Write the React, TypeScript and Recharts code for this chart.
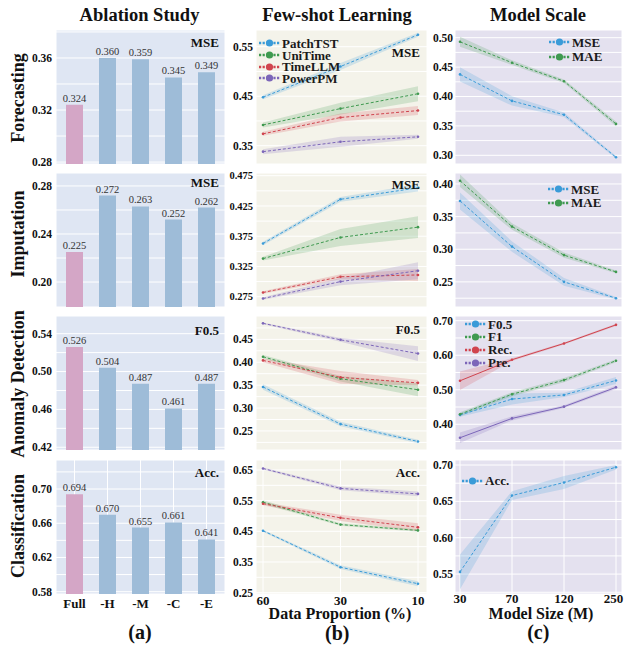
import React from "react";
import {
  Area,
  Bar,
  BarChart,
  CartesianGrid,
  Cell,
  ComposedChart,
  LabelList,
  Line,
  XAxis,
  YAxis,
} from "recharts";

const FONT = "'Liberation Serif', 'Times New Roman', serif";

// ---------- (a) Ablation Study ----------
const ablationNames = ["Full", "-H", "-M", "-C", "-E"];
const ablationForecasting = [0.324, 0.36, 0.359, 0.345, 0.349];
const ablationImputation = [0.225, 0.272, 0.263, 0.252, 0.262];
const ablationAnomaly = [0.526, 0.504, 0.487, 0.461, 0.487];
const ablationClassification = [0.694, 0.67, 0.655, 0.661, 0.641];

// ---------- (b) Few-shot Learning ----------
const fewShotX = ["60", "30", "10"];

// forecasting (MSE)
const fsFcPatchTST = [0.448, 0.51, 0.574];
const fsFcPatchTSTErr = [0.004, 0.007, 0.004];
const fsFcUniTime = [0.392, 0.425, 0.455];
const fsFcUniTimeErr = [0.005, 0.012, 0.015];
const fsFcTimeLLM = [0.374, 0.407, 0.421];
const fsFcTimeLLMErr = [0.004, 0.008, 0.009];
const fsFcPowerPM = [0.338, 0.358, 0.368];
const fsFcPowerPMErr = [0.005, 0.01, 0.004];

// imputation (MSE)
const fsImPatchTST = [0.363, 0.436, 0.455];
const fsImPatchTSTErr = [0.003, 0.004, 0.006];
const fsImUniTime = [0.338, 0.373, 0.39];
const fsImUniTimeErr = [0.003, 0.014, 0.018];
const fsImTimeLLM = [0.282, 0.308, 0.311];
const fsImTimeLLMErr = [0.002, 0.004, 0.01];
const fsImPowerPM = [0.272, 0.3, 0.318];
const fsImPowerPMErr = [0.002, 0.006, 0.014];

// anomaly detection (F0.5)
const fsAdPatchTST = [0.346, 0.265, 0.227];
const fsAdPatchTSTErr = [0.006, 0.005, 0.004];
const fsAdUniTime = [0.412, 0.364, 0.34];
const fsAdUniTimeErr = [0.004, 0.006, 0.014];
const fsAdTimeLLM = [0.404, 0.367, 0.355];
const fsAdTimeLLMErr = [0.004, 0.014, 0.006];
const fsAdPowerPM = [0.485, 0.449, 0.419];
const fsAdPowerPMErr = [0.002, 0.004, 0.016];

// classification (Acc.)
const fsClPatchTST = [0.452, 0.333, 0.279];
const fsClPatchTSTErr = [0.003, 0.006, 0.008];
const fsClUniTime = [0.545, 0.472, 0.453];
const fsClUniTimeErr = [0.006, 0.004, 0.004];
const fsClTimeLLM = [0.54, 0.494, 0.463];
const fsClTimeLLMErr = [0.005, 0.01, 0.013];
const fsClPowerPM = [0.655, 0.59, 0.572];
const fsClPowerPMErr = [0.003, 0.006, 0.008];

// ---------- (c) Model Scale ----------
const modelSizeX = ["30", "70", "120", "250"];

const msFcMSE = [0.4376, 0.3925, 0.369, 0.2966];
const msFcMSEErr = [0.012, 0.008, 0.004, 0.002];
const msFcMAE = [0.493, 0.4575, 0.426, 0.3534];
const msFcMAEErr = [0.0085, 0.004, 0.003, 0.004];

const msImMSE = [0.374, 0.304, 0.25, 0.225];
const msImMSEErr = [0.013, 0.008, 0.006, 0.002];
const msImMAE = [0.405, 0.3347, 0.291, 0.2653];
const msImMAEErr = [0.0095, 0.005, 0.004, 0.002];

const msAdF05 = [0.427, 0.473, 0.485, 0.527];
const msAdF05Err = [0.005, 0.016, 0.006, 0.01];
const msAdF1 = [0.429, 0.487, 0.528, 0.584];
const msAdF1Err = [0.006, 0.006, 0.006, 0.004];
const msAdRec = [0.526, 0.587, 0.634, 0.688];
const msAdRecErr = [0.027, 0.004, 0.003, 0.003];
const msAdPre = [0.361, 0.417, 0.451, 0.507];
const msAdPreErr = [0.015, 0.006, 0.004, 0.005];

const msClAcc = [0.553, 0.658, 0.676, 0.697];
const msClAccErr = [0.024, 0.006, 0.009, 0.003];

// ---------- y gridlines / labelled ticks ----------
const aFcGrid = [0.28, 0.3, 0.32, 0.34, 0.36, 0.38];
const aFcTicks = [0.28, 0.32, 0.36];
const aImGrid = [0.2, 0.22, 0.24, 0.26, 0.28];
const aImTicks = [0.2, 0.24, 0.28];
const aAdGrid = [0.42, 0.44, 0.46, 0.48, 0.5, 0.52, 0.54];
const aAdTicks = [0.42, 0.46, 0.5, 0.54];
const aClGrid = [0.58, 0.6, 0.62, 0.64, 0.66, 0.68, 0.7, 0.72];
const aClTicks = [0.58, 0.62, 0.66, 0.7];

const bFcGrid = [0.35, 0.4, 0.45, 0.5, 0.55];
const bFcTicks = [0.35, 0.45, 0.55];
const bImGrid = [0.275, 0.3, 0.325, 0.35, 0.375, 0.4, 0.425, 0.45, 0.475];
const bImTicks = [0.275, 0.325, 0.375, 0.425, 0.475];
const bAdGrid = [0.225, 0.25, 0.275, 0.3, 0.325, 0.35, 0.375, 0.4, 0.425, 0.45, 0.475];
const bAdTicks = [0.25, 0.3, 0.35, 0.4, 0.45];
const bClGrid = [0.25, 0.3, 0.35, 0.4, 0.45, 0.5, 0.55, 0.6, 0.65];
const bClTicks = [0.25, 0.35, 0.45, 0.55, 0.65];

const cFcGrid = [0.3, 0.325, 0.35, 0.375, 0.4, 0.425, 0.45, 0.475, 0.5];
const cFcTicks = [0.3, 0.35, 0.4, 0.45, 0.5];
const cImGrid = [0.225, 0.25, 0.275, 0.3, 0.325, 0.35, 0.375, 0.4];
const cImTicks = [0.25, 0.3, 0.35, 0.4];
const cAdGrid = [0.35, 0.4, 0.45, 0.5, 0.55, 0.6, 0.65, 0.7];
const cAdTicks = [0.4, 0.5, 0.6, 0.7];
const cClGrid = [0.525, 0.55, 0.575, 0.6, 0.625, 0.65, 0.675, 0.7];
const cClTicks = [0.55, 0.6, 0.65, 0.7];

// ---------- styling ----------
const BLUE = "#3a9bd8";
const GREEN = "#3f9a50";
const RED = "#d0444e";
const PURPLE = "#7c66b9";
const BG_A = "#dfe6f3";
const BG_B = "#f4f3ea";
const BG_C = "#e4e1ef";
const BAR_FULL = "#d4a6c6";
const BAR_REST = "#9ebcd8";

const ROW_TOP = [30, 173, 316, 460];
const PLOT_H = 134;
const X_H = 22;
const M_TOP = 8;
const M_RIGHT = 10;
const Y_W = 30;

type Series = { name: string; color: string; mean: number[]; err: number[]; dash?: string };

const yTick =
  (labels: number[], dec: number, xr: number, fs: number) =>
  (p: any) => {
    const v = p.payload.value as number;
    if (!labels.some((l) => Math.abs(l - v) < 1e-6)) return <g />;
    return (
      <text
        x={xr}
        y={p.y}
        dy={fs * 0.34}
        textAnchor="end"
        fontFamily={FONT}
        fontWeight="bold"
        fontSize={fs}
        fill="#111"
      >
        {v.toFixed(dec)}
      </text>
    );
  };

// maxX keeps the last label inside the page
const xTick = (off: number, maxX: number) => (p: any) => (
  <text
    x={Math.min(p.x, maxX)}
    y={M_TOP + PLOT_H + off}
    textAnchor="middle"
    fontFamily={FONT}
    fontWeight="bold"
    fontSize={13}
    fill="#111"
  >
    {p.payload.value}
  </text>
);

function AblationPanel(props: {
  row: number;
  values: number[];
  domain: [number, number];
  grid: number[];
  ticks: number[];
}) {
  const { row, values, domain, grid, ticks } = props;
  const data = ablationNames.map((name, i) => ({ name, v: values[i] }));
  const bottom = row === 3;
  return (
    <div style={{ position: "absolute", left: 56 - Y_W, top: ROW_TOP[row] - M_TOP }}>
      <BarChart
        width={Y_W + 169 + M_RIGHT}
        height={M_TOP + PLOT_H + X_H}
        data={data}
        margin={{ top: M_TOP, right: M_RIGHT, bottom: 0, left: 0 }}
      >
        <CartesianGrid stroke="#fff" strokeWidth={1} fill={BG_A} fillOpacity={1} />
        <XAxis
          dataKey="name"
          type="category"
          padding={{ left: 2, right: 2 }}
          axisLine={false}
          tickLine={false}
          height={X_H}
          interval={0}
          tick={bottom ? xTick(14, 999) : false}
        />
        <YAxis
          type="number"
          domain={domain}
          allowDataOverflow
          ticks={grid}
          interval={0}
          axisLine={false}
          tickLine={false}
          width={Y_W}
          tick={yTick(ticks, 2, Y_W - 4, 11.5)}
        />
        <Bar dataKey="v" barSize={17} isAnimationActive={false}>
          {data.map((d, i) => (
            <Cell key={d.name} fill={i === 0 ? BAR_FULL : BAR_REST} />
          ))}
          <LabelList
            dataKey="v"
            position="top"
            offset={3}
            formatter={(v: any) => Number(v).toFixed(3)}
            fill="#333"
            fontSize={10.5}
            fontFamily={FONT}
          />
        </Bar>
      </BarChart>
    </div>
  );
}

function LinePanel(props: {
  left: number;
  row: number;
  plotW: number;
  cats: string[];
  series: Series[];
  domain: [number, number];
  grid: number[];
  ticks: number[];
  dec: number;
  tickFs: number;
  tickRight: number;
  pad: { left: number; right: number };
  bg: string;
  xOff: number;
  xMax: number;
}) {
  const { left, row, plotW, cats, series, domain, grid, ticks, dec, tickFs, tickRight, pad, bg, xOff, xMax } =
    props;
  const data = cats.map((c, i) => {
    const r: any = { x: c };
    series.forEach((s) => {
      r[s.name] = s.mean[i];
      r[s.name + "_band"] = [s.mean[i] - s.err[i], s.mean[i] + s.err[i]];
    });
    return r;
  });
  const bottom = row === 3;
  const chartLeft = left - Y_W;
  return (
    <div style={{ position: "absolute", left: chartLeft, top: ROW_TOP[row] - M_TOP }}>
      <ComposedChart
        width={Y_W + plotW + M_RIGHT}
        height={M_TOP + PLOT_H + X_H}
        data={data}
        margin={{ top: M_TOP, right: M_RIGHT, bottom: 0, left: 0 }}
      >
        <CartesianGrid stroke="#fff" strokeWidth={1} fill={bg} fillOpacity={1} />
        <XAxis
          dataKey="x"
          type="category"
          padding={pad}
          axisLine={false}
          tickLine={false}
          height={X_H}
          interval={0}
          tick={bottom ? xTick(xOff, xMax - chartLeft) : false}
        />
        <YAxis
          type="number"
          domain={domain}
          allowDataOverflow
          ticks={grid}
          interval={0}
          axisLine={false}
          tickLine={false}
          width={Y_W}
          tick={yTick(ticks, dec, tickRight, tickFs)}
        />
        {series.map((s) => (
          <Area
            key={s.name + "_band"}
            type="linear"
            dataKey={s.name + "_band"}
            stroke="none"
            fill={s.color}
            fillOpacity={0.2}
            dot={false}
            activeDot={false}
            isAnimationActive={false}
          />
        ))}
        {series.map((s) => (
          <Line
            key={s.name}
            type="linear"
            dataKey={s.name}
            stroke={s.color}
            strokeWidth={1}
            strokeDasharray={s.dash ?? "3 2"}
            dot={{ r: 1.3, fill: s.color, stroke: s.color, strokeWidth: 0 }}
            activeDot={false}
            isAnimationActive={false}
          />
        ))}
      </ComposedChart>
    </div>
  );
}

function Legend(props: { left: number; top: number; gap: number; items: { name: string; color: string }[] }) {
  return (
    <>
      {props.items.map((it, i) => (
        <div
          key={it.name}
          style={{
            position: "absolute",
            left: props.left,
            top: props.top + i * props.gap - 5.5,
            height: 11,
            display: "flex",
            alignItems: "center",
            whiteSpace: "nowrap",
          }}
        >
          <svg width={21} height={8} style={{ display: "block" }}>
            <line x1={0} y1={4} x2={21} y2={4} stroke={it.color} strokeWidth={2.4} strokeDasharray="2.2 1.4" />
            <circle cx={10.5} cy={4} r={3.6} fill={it.color} />
          </svg>
          <span
            style={{
              marginLeft: 2,
              fontFamily: FONT,
              fontWeight: "bold",
              fontSize: 13,
              lineHeight: "11px",
              color: "#1a1a1a",
            }}
          >
            {it.name}
          </span>
        </div>
      ))}
    </>
  );
}

function Label(props: {
  x: number;
  y: number;
  text: string;
  size: number;
  rotate?: boolean;
  align?: "center" | "right";
}) {
  const { x, y, text, size, rotate, align = "center" } = props;
  const tx = align === "right" ? "-100%" : "-50%";
  return (
    <div
      style={{
        position: "absolute",
        left: x,
        top: y,
        transform: `translate(${tx}, -50%)${rotate ? " rotate(-90deg)" : ""}`,
        fontFamily: FONT,
        fontWeight: "bold",
        fontSize: size,
        lineHeight: 0.8,
        whiteSpace: "nowrap",
        color: "#111",
      }}
    >
      {text}
    </div>
  );
}

const fewShot = (
  p: number[],
  pe: number[],
  u: number[],
  ue: number[],
  t: number[],
  te: number[],
  w: number[],
  we: number[]
): Series[] => [
  { name: "PatchTST", color: BLUE, mean: p, err: pe },
  { name: "UniTime", color: GREEN, mean: u, err: ue },
  { name: "TimeLLM", color: RED, mean: t, err: te },
  { name: "PowerPM", color: PURPLE, mean: w, err: we },
];

export default function App() {
  const bCommon = {
    left: 256,
    plotW: 171,
    cats: fewShotX,
    pad: { left: 7, right: 9 },
    bg: BG_B,
    tickRight: Y_W - 3,
    xOff: 11,
    xMax: 999,
  };
  const cCommon = {
    left: 455,
    plotW: 167,
    cats: modelSizeX,
    pad: { left: 5, right: 6 },
    bg: BG_C,
    tickRight: Y_W - 2,
    xOff: 9,
    xMax: 613.5,
  };

  return (
    <div style={{ position: "absolute", left: 0, top: 0, width: 624, height: 646, background: "#fff" }}>
      {/* column titles */}
      <Label x={139.5} y={15} text="Ablation Study" size={18.5} />
      <Label x={337} y={15} text="Few-shot Learning" size={18.5} />
      <Label x={538} y={15} text="Model Scale" size={18.5} />

      {/* row titles */}
      <Label x={18} y={97.5} text="Forecasting" size={18} rotate />
      <Label x={18} y={234} text="Imputation" size={18} rotate />
      <Label x={18} y={384} text="Anomaly Detection" size={18} rotate />
      <Label x={18} y={525.5} text="Classification" size={18} rotate />

      {/* (a) */}
      <AblationPanel row={0} values={ablationForecasting} domain={[0.2785, 0.3815]} grid={aFcGrid} ticks={aFcTicks} />
      <AblationPanel row={1} values={ablationImputation} domain={[0.1792, 0.2908]} grid={aImGrid} ticks={aImTicks} />
      <AblationPanel row={2} values={ablationAnomaly} domain={[0.4171, 0.5587]} grid={aAdGrid} ticks={aAdTicks} />
      <AblationPanel row={3} values={ablationClassification} domain={[0.5773, 0.7339]} grid={aClGrid} ticks={aClTicks} />

      {/* (b) */}
      <LinePanel
        {...bCommon}
        row={0}
        series={fewShot(fsFcPatchTST, fsFcPatchTSTErr, fsFcUniTime, fsFcUniTimeErr, fsFcTimeLLM, fsFcTimeLLMErr, fsFcPowerPM, fsFcPowerPMErr)}
        domain={[0.3131, 0.5837]}
        grid={bFcGrid}
        ticks={bFcTicks}
        dec={2}
        tickFs={11.5}
      />
      <LinePanel
        {...bCommon}
        row={1}
        series={fewShot(fsImPatchTST, fsImPatchTSTErr, fsImUniTime, fsImUniTimeErr, fsImTimeLLM, fsImTimeLLMErr, fsImPowerPM, fsImPowerPMErr)}
        domain={[0.258, 0.4795]}
        grid={bImGrid}
        ticks={bImTicks}
        dec={3}
        tickFs={10.5}
      />
      <LinePanel
        {...bCommon}
        row={2}
        series={fewShot(fsAdPatchTST, fsAdPatchTSTErr, fsAdUniTime, fsAdUniTimeErr, fsAdTimeLLM, fsAdTimeLLMErr, fsAdPowerPM, fsAdPowerPMErr)}
        domain={[0.2084, 0.501]}
        grid={bAdGrid}
        ticks={bAdTicks}
        dec={2}
        tickFs={11.5}
      />
      <LinePanel
        {...bCommon}
        row={3}
        series={fewShot(fsClPatchTST, fsClPatchTSTErr, fsClUniTime, fsClUniTimeErr, fsClTimeLLM, fsClTimeLLMErr, fsClPowerPM, fsClPowerPMErr)}
        domain={[0.2456, 0.6826]}
        grid={bClGrid}
        ticks={bClTicks}
        dec={2}
        tickFs={11.5}
      />

      {/* (c) */}
      <LinePanel
        {...cCommon}
        row={0}
        series={[
          { name: "MSE", color: BLUE, mean: msFcMSE, err: msFcMSEErr },
          { name: "MAE", color: GREEN, mean: msFcMAE, err: msFcMAEErr },
        ]}
        domain={[0.2852, 0.5131]}
        grid={cFcGrid}
        ticks={cFcTicks}
        dec={2}
        tickFs={11.5}
      />
      <LinePanel
        {...cCommon}
        row={1}
        series={[
          { name: "MSE", color: BLUE, mean: msImMSE, err: msImMSEErr },
          { name: "MAE", color: GREEN, mean: msImMAE, err: msImMAEErr },
        ]}
        domain={[0.2115, 0.4168]}
        grid={cImGrid}
        ticks={cImTicks}
        dec={2}
        tickFs={11.5}
      />
      <LinePanel
        {...cCommon}
        row={2}
        series={[
          { name: "F0.5", color: BLUE, mean: msAdF05, err: msAdF05Err },
          { name: "F1", color: GREEN, mean: msAdF1, err: msAdF1Err },
          { name: "Rec.", color: RED, mean: msAdRec, err: msAdRecErr, dash: "" },
          { name: "Pre.", color: PURPLE, mean: msAdPre, err: msAdPreErr, dash: "" },
        ]}
        domain={[0.3255, 0.7136]}
        grid={cAdGrid}
        ticks={cAdTicks}
        dec={2}
        tickFs={11.5}
      />
      <LinePanel
        {...cCommon}
        row={3}
        series={[{ name: "Acc.", color: BLUE, mean: msClAcc, err: msClAccErr }]}
        domain={[0.5226, 0.7069]}
        grid={cClGrid}
        ticks={cClTicks}
        dec={2}
        tickFs={11.5}
      />

      {/* metric tags */}
      <Label x={219} y={43} text="MSE" size={13} align="right" />
      <Label x={219} y={183} text="MSE" size={13} align="right" />
      <Label x={219} y={331} text="F0.5" size={13} align="right" />
      <Label x={219} y={473} text="Acc." size={13} align="right" />
      <Label x={420} y={53} text="MSE" size={13} align="right" />
      <Label x={420} y={185} text="MSE" size={13} align="right" />
      <Label x={420} y={330} text="F0.5" size={13} align="right" />
      <Label x={420} y={473} text="Acc." size={13} align="right" />

      {/* legends */}
      <Legend
        left={259}
        top={43.3}
        gap={11.7}
        items={[
          { name: "PatchTST", color: BLUE },
          { name: "UniTime", color: GREEN },
          { name: "TimeLLM", color: RED },
          { name: "PowerPM", color: PURPLE },
        ]}
      />
      <Legend left={549} top={42.3} gap={14.3} items={[{ name: "MSE", color: BLUE }, { name: "MAE", color: GREEN }]} />
      <Legend left={548} top={189.3} gap={13.4} items={[{ name: "MSE", color: BLUE }, { name: "MAE", color: GREEN }]} />
      <Legend
        left={465}
        top={324}
        gap={12.9}
        items={[
          { name: "F0.5", color: BLUE },
          { name: "F1", color: GREEN },
          { name: "Rec.", color: RED },
          { name: "Pre.", color: PURPLE },
        ]}
      />
      <Legend left={462} top={480.7} gap={13} items={[{ name: "Acc.", color: BLUE }]} />

      {/* x-axis titles and panel tags */}
      <Label x={340} y={613.5} text="Data Proportion (%)" size={16} />
      <Label x={541} y={614} text="Model Size (M)" size={16} />
      <Label x={140} y={631.7} text="(a)" size={20} />
      <Label x={337.3} y={632.7} text="(b)" size={20} />
      <Label x={538.3} y={632} text="(c)" size={20} />
    </div>
  );
}
